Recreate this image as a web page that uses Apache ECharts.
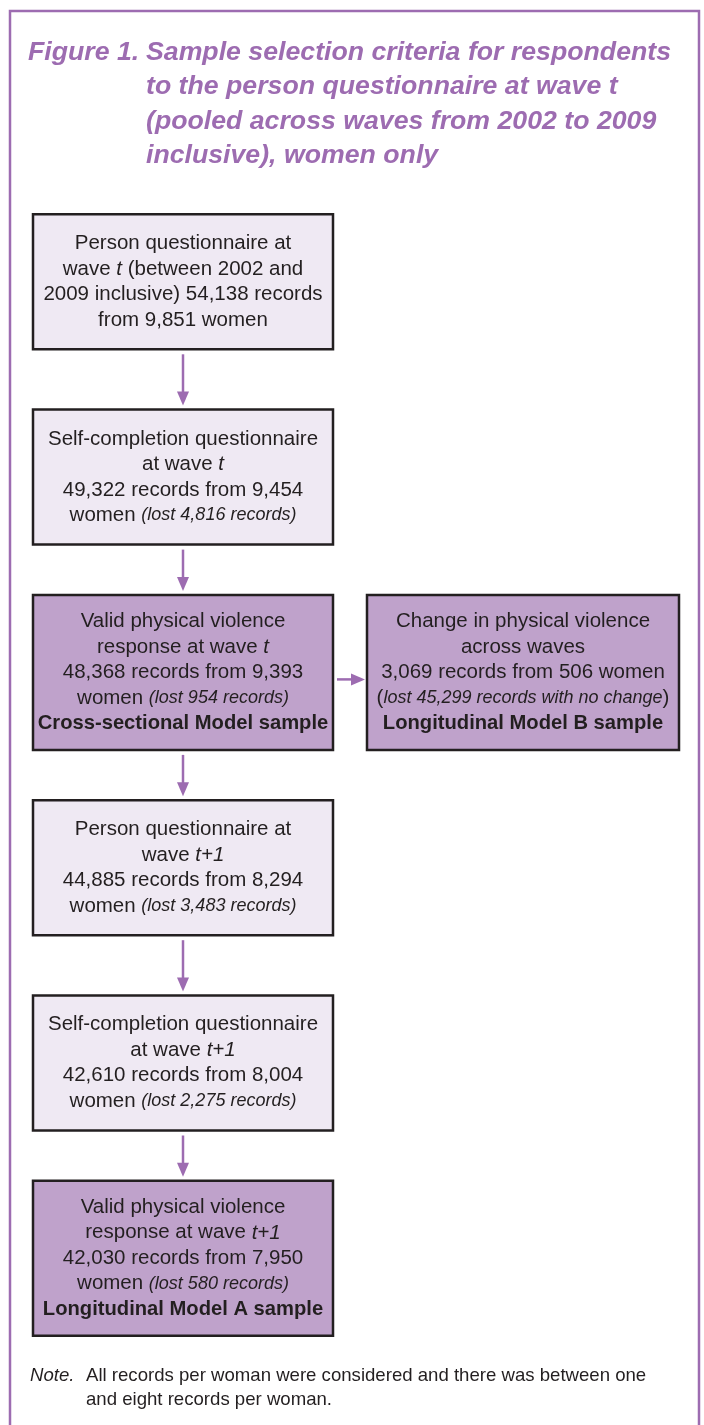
<!DOCTYPE html>
<html>
<head>
<meta charset="utf-8">
<script src="https://cdn.jsdelivr.net/npm/echarts@6/dist/echarts.min.js"></script>
<style>
html,body{margin:0;padding:0;background:#ffffff;}
#chart{width:704px;height:1425px;}
</style>
</head>
<body>
<div id="chart"></div>
<script>
// ---------- data ----------
const titleLead = 'Figure 1.';
const titleLines = [
  'Sample selection criteria for respondents',
  'to the person questionnaire at wave t',
  '(pooled across waves from 2002 to 2009',
  'inclusive), women only'
];
const noteLead = 'Note.';
const noteLines = [
  'All records per woman were considered and there was between one',
  'and eight records per woman.'
];

const boxCol  = [0, 0, 0, 1, 0, 0, 0];
const boxRow  = [0, 1, 2, 2, 3, 4, 5];
const boxKind = ['step', 'step', 'sample', 'sample', 'step', 'step', 'sample'];
const records = [54138, 49322, 48368, 3069, 44885, 42610, 42030];
const women   = [9851, 9454, 9393, 506, 8294, 8004, 7950];
const lostRecords = [0, 4816, 954, 45299, 3483, 2275, 580];
const boxTemplates = [
  'Person questionnaire at\nwave {it|t} (between 2002 and\n2009 inclusive) %R% records\nfrom %W% women',
  'Self-completion questionnaire\nat wave {it|t}\n%R% records from %W%\nwomen {lost|(lost %L% records)}',
  'Valid physical violence\nresponse at wave {it|t}\n%R% records from %W%\nwomen {lost|(lost %L% records)}\n{b|Cross-sectional Model sample}',
  'Change in physical violence\nacross waves\n%R% records from %W% women\n({lost|lost %L% records with no change})\n{b|Longitudinal Model B sample}',
  'Person questionnaire at\nwave {it|t+1}\n%R% records from %W%\nwomen {lost|(lost %L% records)}',
  'Self-completion questionnaire\nat wave {it|t+1}\n%R% records from %W%\nwomen {lost|(lost %L% records)}',
  'Valid physical violence\nresponse at wave {it|t+1}\n%R% records from %W%\nwomen {lost|(lost %L% records)}\n{b|Longitudinal Model A sample}'
];
const edgesFrom = [0, 1, 2, 2, 4, 5];
const edgesTo   = [1, 2, 3, 4, 5, 6];

// ---------- styles ----------
const FONT = '"Liberation Sans", Arial, Helvetica, sans-serif';
const PURPLE = '#9d6cb1';
const INK = '#231f20';
const FILL_STEP = '#efe9f3';
const FILL_SAMPLE = '#bfa2cb';

function fmt(n) { return n.toLocaleString('en-US'); }
function labelFor(i) {
  return boxTemplates[i]
    .replace('%R%', fmt(records[i]))
    .replace('%W%', fmt(women[i]))
    .replace('%L%', fmt(lostRecords[i]));
}
function boxW(col) { return col > 0.5 ? 312 : 300; }
function boxH(i) { return boxKind[i] === 'sample' ? 155 : 135; }

const RICH = {
  it:   { fontFamily: FONT, fontSize: 20.5, fontStyle: 'italic', lineHeight: 25.5, fill: INK, color: INK },
  lost: { fontFamily: FONT, fontSize: 18, fontStyle: 'italic', lineHeight: 25.5, fill: INK, color: INK },
  b:    { fontFamily: FONT, fontSize: 20.2, fontWeight: 'bold', lineHeight: 25.5, fill: INK, color: INK }
};

const boxData = boxCol.map((c, i) => [c, boxRow[i], i]);
const edgeData = edgesFrom.map((f, k) => {
  const t = edgesTo[k];
  return [boxCol[f], boxRow[f], boxCol[t], boxRow[t], f, t];
});

function renderBox(params, api) {
  const i = api.value(2);
  const p = api.coord([api.value(0), api.value(1)]);
  const w = boxW(api.value(0));
  const h = boxH(i);
  const sample = boxKind[i] === 'sample';
  return {
    type: 'group',
    children: [
      {
        type: 'rect',
        shape: { x: p[0] - w / 2, y: p[1] - h / 2, width: w, height: h },
        style: { fill: sample ? FILL_SAMPLE : FILL_STEP, stroke: INK, lineWidth: 2.5 }
      },
      {
        type: 'text',
        style: {
          x: p[0], y: p[1],
          text: labelFor(i),
          align: 'center', verticalAlign: 'middle',
          fontFamily: FONT, fontSize: 20.5, lineHeight: 25.5,
          fill: INK,
          rich: RICH
        }
      }
    ]
  };
}

function renderEdge(params, api) {
  const a = api.coord([api.value(0), api.value(1)]);
  const b = api.coord([api.value(2), api.value(3)]);
  const f = api.value(4), t = api.value(5);
  const lineStyle = { stroke: PURPLE, lineWidth: 2.5 };
  const headStyle = { fill: PURPLE };
  if (Math.abs(a[0] - b[0]) < 1) {
    const x = a[0];
    const y1 = a[1] + boxH(f) / 2 + 5;
    const tip = b[1] - boxH(t) / 2 - 4;
    return {
      type: 'group',
      children: [
        { type: 'line', shape: { x1: x, y1: y1, x2: x, y2: tip - 10 }, style: lineStyle },
        { type: 'polygon', shape: { points: [[x - 6, tip - 14], [x + 6, tip - 14], [x, tip]] }, style: headStyle }
      ]
    };
  } else {
    const y = a[1] + 7;
    const x1 = a[0] + boxW(api.value(0)) / 2 + 4;
    const tip = b[0] - boxW(api.value(2)) / 2 - 2;
    return {
      type: 'group',
      children: [
        { type: 'line', shape: { x1: x1, y1: y, x2: tip - 10, y2: y }, style: lineStyle },
        { type: 'polygon', shape: { points: [[tip - 14, y - 6], [tip - 14, y + 6], [tip, y]] }, style: headStyle }
      ]
    };
  }
}

const chart = echarts.init(document.getElementById('chart'), null, { renderer: 'canvas' });
const titleStyle = {
  fontFamily: FONT, fontSize: 26.7, fontStyle: 'italic', fontWeight: 'bold',
  color: PURPLE, lineHeight: 34.5
};
const noteStyle = { fontFamily: FONT, fontSize: 18.6, color: INK, lineHeight: 24, fontWeight: 'normal' };

chart.setOption({
  animation: false,
  backgroundColor: '#ffffff',
  title: [
    { text: titleLead, left: 28, top: 35, padding: 0, textStyle: titleStyle },
    { text: titleLines.join('\n'), left: 146, top: 35, padding: 0, textStyle: titleStyle },
    { text: noteLead, left: 30, top: 1364, padding: 0, textStyle: Object.assign({}, noteStyle, { fontStyle: 'italic' }) },
    { text: noteLines.join('\n'), left: 86, top: 1364, padding: 0, textStyle: noteStyle }
  ],
  graphic: [
    {
      type: 'rect', z: -1,
      shape: { x: 10, y: 11, width: 689, height: 1440 },
      style: { fill: 'none', stroke: PURPLE, lineWidth: 2.5 }
    }
  ],
  grid: { left: 183, right: 181, top: 281.8, bottom: 166.7, containLabel: false },
  xAxis: { type: 'value', min: 0, max: 1, show: false },
  yAxis: { type: 'value', min: 0, max: 5, inverse: true, show: false },
  series: [
    {
      type: 'custom',
      name: 'links',
      data: edgeData,
      encode: { x: [0, 2], y: [1, 3] },
      renderItem: renderEdge,
      z: 1
    },
    {
      type: 'custom',
      name: 'boxes',
      data: boxData,
      encode: { x: 0, y: 1 },
      renderItem: renderBox,
      z: 2
    }
  ]
});
</script>
</body>
</html>
